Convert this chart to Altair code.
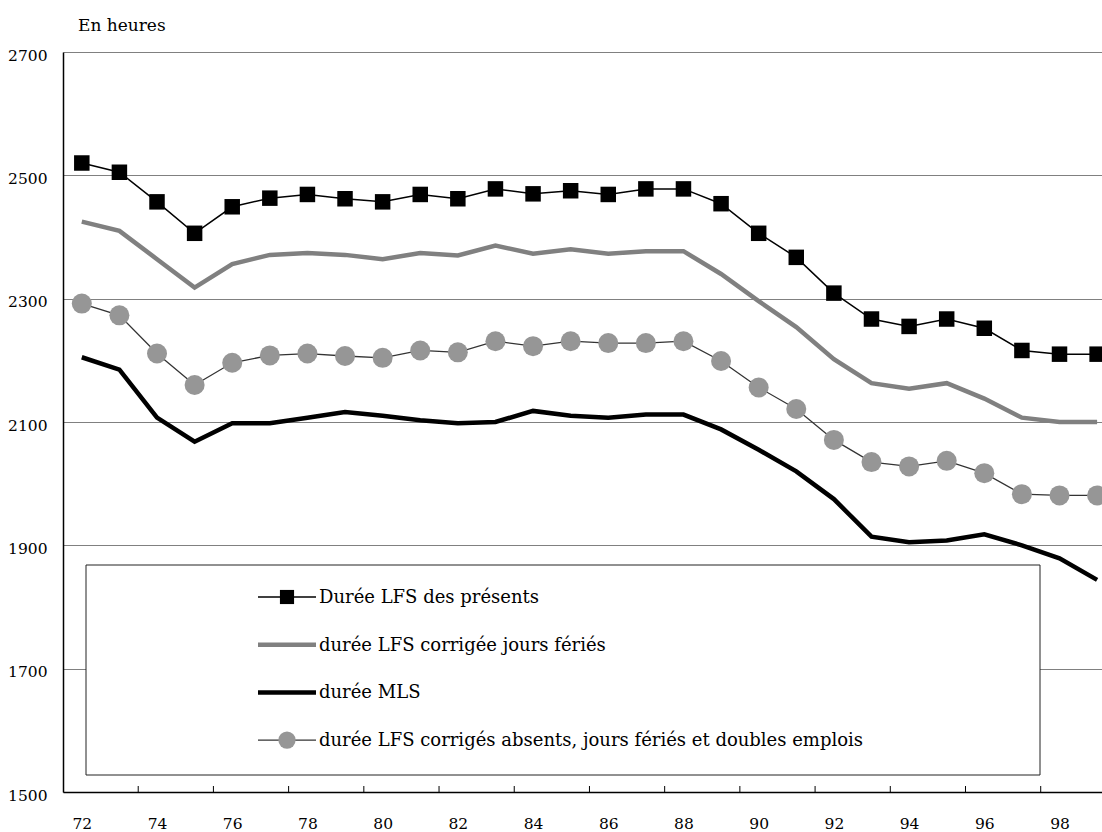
import altair as alt
import pandas as pd

# Années (deux derniers chiffres) et durées annuelles du travail, en heures
annees = list(range(72, 100))

duree_presents = [2520, 2505, 2457, 2406, 2449, 2463, 2469, 2462, 2457, 2469,
                  2462, 2478, 2470, 2475, 2469, 2478, 2478, 2454, 2406, 2367,
                  2309, 2267, 2255, 2267, 2252, 2216, 2210, 2210]

duree_feries = [2425, 2410, 2364, 2318, 2356, 2371, 2374, 2371, 2364, 2374,
                2370, 2386, 2373, 2380, 2373, 2377, 2377, 2340, 2296, 2254,
                2202, 2163, 2154, 2163, 2138, 2107, 2100, 2100]

duree_mls = [2205, 2185, 2107, 2068, 2098, 2098, 2107, 2116, 2110, 2103,
             2098, 2100, 2118, 2110, 2107, 2112, 2112, 2088, 2055, 2020,
             1975, 1914, 1905, 1908, 1918, 1900, 1879, 1844]

duree_corriges = [2292, 2273, 2211, 2160, 2196, 2208, 2211, 2207, 2204, 2216,
                  2213, 2231, 2223, 2231, 2228, 2228, 2231, 2199, 2156, 2121,
                  2071, 2035, 2028, 2037, 2017, 1983, 1981, 1981]

libelles = [
    "Durée LFS des présents",
    "durée LFS corrigée jours fériés",
    "durée MLS",
    "durée LFS corrigés absents, jours fériés et doubles emplois",
]

x_labels = [72, 74, 76, 78, 80, 82, 84, 86, 88, 90, 92, 94, 96, 98]
x_ticks = [73.5, 75.5, 77.5, 79.5, 81.5, 83.5, 85.5, 87.5, 89.5, 91.5, 93.5, 95.5, 97.5]
y_ticks = [1500, 1700, 1900, 2100, 2300, 2500, 2700]

W, H = 1039, 740
FONT = "DejaVu Serif"

df = pd.DataFrame({
    "an": annees,
    "presents": duree_presents,
    "feries": duree_feries,
    "mls": duree_mls,
    "corriges": duree_corriges,
})

x_scale = alt.Scale(domain=[71.5, 99.13], nice=False, zero=False)

x_enc = alt.X(
    "an:Q",
    scale=x_scale,
    axis=alt.Axis(values=x_labels, format="d", ticks=False, grid=False,
                  labelPadding=24, labelFontSize=15.5, labelFont=FONT,
                  labelColor="black", labelFlush=False, labelOverlap=False,
                  domainColor="black", domainWidth=1.5, title=None),
)


def y_enc(field):
    return alt.Y(
        f"{field}:Q",
        scale=alt.Scale(domain=[1500, 2700], nice=False, zero=False),
        axis=alt.Axis(values=y_ticks, format="d", ticks=False, grid=True,
                      gridColor="#808080", gridWidth=1,
                      labelPadding=16, labelFontSize=15.5, labelFont=FONT,
                      labelColor="black", labelOffset=3, labelFlush=False,
                      domainColor="black", domainWidth=1.5, title=None),
    )


base = alt.Chart(df)

# Séries
presents_line = base.mark_line(color="black", strokeWidth=1.5, clip=True).encode(
    x=x_enc, y=y_enc("presents"))
presents_pts = base.mark_point(shape="square", filled=True, color="black",
                               size=240, opacity=1, clip=True).encode(
    x=x_enc, y=y_enc("presents"))

feries_line = base.mark_line(color="#808080", strokeWidth=4.5, clip=True).encode(
    x=x_enc, y=y_enc("feries"))

mls_line = base.mark_line(color="black", strokeWidth=4.5, clip=True).encode(
    x=x_enc, y=y_enc("mls"))

corriges_line = base.mark_line(color="#333333", strokeWidth=1.3, clip=True).encode(
    x=x_enc, y=y_enc("corriges"))
corriges_pts = base.mark_point(shape="circle", filled=True, color="#969696",
                               size=400, opacity=1, clip=True).encode(
    x=x_enc, y=y_enc("corriges"))

# Graduations de l'axe des abscisses, tournées vers l'intérieur
ticks = alt.Chart(pd.DataFrame({"t": x_ticks})).mark_rule(
    color="black", strokeWidth=1).encode(
    x=alt.X("t:Q", scale=x_scale),
    y=alt.value(H - 6), y2=alt.value(H))

one = alt.Data(values=[{}])

# Titre de l'axe vertical
titre = alt.Chart(one).mark_text(
    text="En heures", font=FONT, fontSize=17, align="left",
    baseline="alphabetic", color="black").encode(
    x=alt.value(15), y=alt.value(-21))

# Cadre de légende
cadre = alt.Chart(one).mark_rect(
    fill="white", stroke="#222222", strokeWidth=1).encode(
    x=alt.value(23), x2=alt.value(977), y=alt.value(513), y2=alt.value(723))

styles = [
    {"color": "black", "width": 1.5, "shape": "square", "fill": "black", "size": 200},
    {"color": "#808080", "width": 4.5},
    {"color": "black", "width": 4.5},
    {"color": "#333333", "width": 1.3, "shape": "circle", "fill": "#969696", "size": 300},
]
row_y0, row_step = 545, 47.7
sym_x0, sym_x1 = 195, 253

legend_layers = [cadre]
for i, (lab, st) in enumerate(zip(libelles, styles)):
    ry = row_y0 + i * row_step
    legend_layers.append(
        alt.Chart(one).mark_rule(color=st["color"], strokeWidth=st["width"]).encode(
            x=alt.value(sym_x0), x2=alt.value(sym_x1), y=alt.value(ry)))
    if "shape" in st:
        legend_layers.append(
            alt.Chart(one).mark_point(shape=st["shape"], filled=True, color=st["fill"],
                                      size=st["size"], opacity=1).encode(
                x=alt.value((sym_x0 + sym_x1) / 2), y=alt.value(ry)))
    legend_layers.append(
        alt.Chart(one).mark_text(text=lab, font=FONT, fontSize=18, align="left",
                                 baseline="middle", color="black").encode(
            x=alt.value(sym_x1 + 3), y=alt.value(ry + 1)))

chart = alt.layer(
    feries_line, mls_line, presents_line, presents_pts, corriges_line, corriges_pts,
    ticks, titre, *legend_layers,
).properties(
    width=W, height=H,
    autosize=alt.AutoSizeParams(type="none"),
    padding={"left": 63, "top": 52, "right": 0, "bottom": 40},
    background="white",
).configure_view(
    stroke=None
).configure_axis(
    labelFont=FONT
)

chart.save("out.html", embed_options={"renderer": "svg", "actions": False})
